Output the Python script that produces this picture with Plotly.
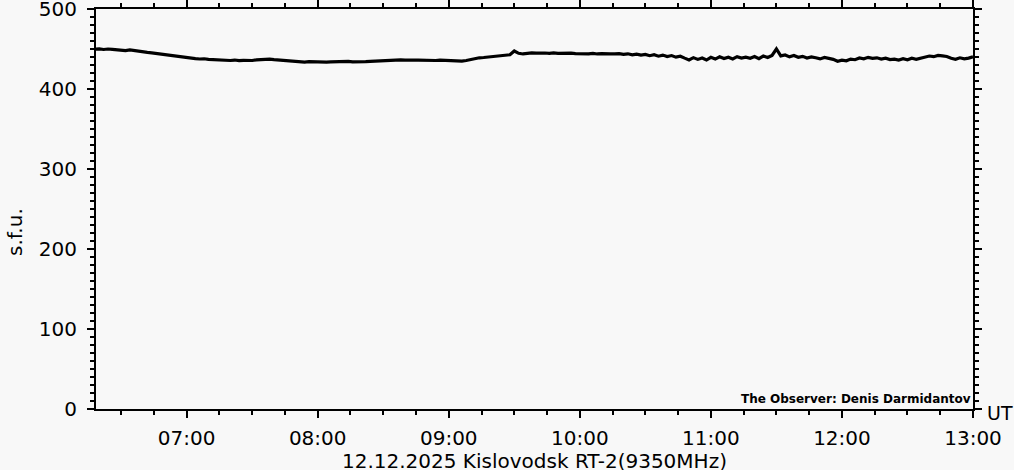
import pandas as pd
import plotly.graph_objects as go

# sampling grid: every 2 minutes from 06:18 UT to 13:00 UT
start_time = "2025-12-12 06:18:00"
n_points = 202

# flux values (s.f.u.)
flux = [
    449.6, 450.2, 449.4, 450.0, 449.5, 449.0, 448.6, 448.0, 448.8, 447.8, 447.0, 446.4, 445.8, 445.2, 444.4,
    443.6, 442.8, 442.2, 441.3, 440.8, 439.6, 439.2, 438.4, 438.0, 437.5, 437.8, 437.0, 436.6, 436.9, 436.2,
    436.0, 435.6, 436.2, 435.4, 435.8, 435.2, 435.6, 436.4, 437.0, 436.6, 437.4, 436.8, 436.2, 435.6, 435.0,
    434.8, 434.4, 434.0, 433.6, 434.2, 433.8, 433.4, 433.9, 433.6, 434.0, 434.4, 433.8, 434.2, 434.6, 434.0,
    434.4, 434.8, 434.2, 434.6, 435.0, 435.4, 435.8, 436.2, 435.6, 436.0, 436.4, 436.0, 435.6, 436.2, 436.0,
    435.8, 436.4, 436.0, 435.6, 436.2, 435.8, 435.2, 434.6, 434.2, 434.8, 435.6, 436.8, 438.2, 439.0, 439.4,
    439.8, 440.4, 440.8, 441.2, 441.6, 442.8, 447.5, 444.6, 443.8, 444.6, 445.2, 444.8, 445.4, 445.0, 444.6,
    445.2, 444.6, 445.0, 444.4, 444.8, 444.2, 443.8, 444.4, 444.0, 444.6, 443.8, 444.2, 443.6, 444.0, 443.8,
    444.2, 443.4, 444.0, 442.8, 443.6, 442.4, 443.2, 441.6, 442.8, 441.0, 442.4, 440.6, 441.8, 439.8, 441.0,
    438.6, 436.4, 439.2, 437.0, 438.8, 436.2, 439.6, 437.4, 440.2, 438.0, 439.8, 437.6, 440.4, 438.6, 439.8,
    438.4, 440.6, 438.0, 441.2, 439.4, 442.0, 450.0, 441.4, 442.6, 440.2, 441.8, 439.6, 440.8, 438.8, 440.2,
    439.0, 437.6, 439.4, 438.2, 437.0, 434.6, 436.0, 435.2, 437.4, 436.6, 438.8, 437.8, 439.6, 438.4, 439.0,
    437.4, 438.6, 436.8, 437.4, 436.2, 437.8, 436.6, 438.4, 437.2, 438.8, 439.6, 441.2, 440.4, 442.0, 441.4,
    440.6, 438.4, 437.2, 439.0, 437.8, 438.6, 440.2,
]

x_range = ["2025-12-12 06:18:30", "2025-12-12 13:00:00"]
y_ticks = [0, 100, 200, 300, 400, 500]
y_label = "s.f.u."
x_unit = "UT"
title_text = "12.12.2025 Kislovodsk RT-2(9350MHz)"
observer_text = "The Observer: Denis Darmidantov"

times = pd.date_range(start_time, periods=n_points, freq="2min")

FONT = "DejaVu Sans"
BG = "#f8f8f8"

fig = go.Figure()
fig.add_trace(go.Scatter(
    x=times, y=flux, mode="lines",
    line=dict(color="black", width=3.2),
    hoverinfo="skip", showlegend=False,
))

L, R, T, B = 96, 41, 9, 61
W, H = 1014, 470
pw = W - L - R
ph = H - T - B

fig.update_layout(
    width=W, height=H,
    margin=dict(l=L, r=R, t=T, b=B, pad=0, autoexpand=False),
    paper_bgcolor=BG, plot_bgcolor=BG,
    font=dict(family=FONT, color="black", size=20),
    showlegend=False,
)

fig.update_xaxes(
    type="date", range=x_range, automargin=False,
    tickformat="%H:%M", dtick=3600000, tick0="2025-12-12 07:00:00",
    showline=True, linecolor="black", linewidth=2, mirror="ticks",
    ticks="outside", ticklen=7, tickwidth=2, tickcolor="black",
    minor=dict(dtick=900000, tick0="2025-12-12 07:00:00", ticks="outside",
               ticklen=4, tickwidth=2, tickcolor="black", showgrid=False),
    showgrid=False, zeroline=False,
    tickfont=dict(family=FONT, size=20, color="black"),
    ticklabelstandoff=3, ticklabeloverflow="allow",
)
fig.update_yaxes(
    range=[0, 500], tickvals=y_ticks, automargin=False,
    showline=True, linecolor="black", linewidth=2, mirror="ticks",
    ticks="outside", ticklen=7, tickwidth=2, tickcolor="black",
    minor=dict(dtick=10, ticks="outside", ticklen=4, tickwidth=2,
               tickcolor="black", showgrid=False),
    showgrid=False, zeroline=False,
    tickfont=dict(family=FONT, size=20, color="black"),
    ticklabelstandoff=6, ticklabeloverflow="allow",
)

def px_x(px):
    return (px - L) / pw

def px_y(py):
    return 1 - (py - T) / ph

fig.add_annotation(
    text=y_label, textangle=-90, showarrow=False,
    xref="paper", yref="paper", x=px_x(15), y=px_y(232),
    xanchor="center", yanchor="middle",
    font=dict(family=FONT, size=20, color="black"),
)
fig.add_annotation(
    text=x_unit, showarrow=False,
    xref="paper", yref="paper", x=px_x(985), y=px_y(413),
    xanchor="left", yanchor="middle",
    font=dict(family=FONT, size=19, color="black"),
)
fig.add_annotation(
    text=title_text, showarrow=False,
    xref="paper", yref="paper", x=0.5, y=px_y(447),
    xanchor="center", yanchor="top",
    font=dict(family=FONT, size=20, color="black"),
)
fig.add_annotation(
    text="<b>" + observer_text + "</b>", showarrow=False,
    xref="paper", yref="paper", x=1.0, y=px_y(399),
    xanchor="right", yanchor="middle",
    font=dict(family=FONT, size=12, color="black"),
)

fig.write_html(
    "out.html",
    config={"displayModeBar": False},
    post_script="document.body.style.margin='0';",
)
